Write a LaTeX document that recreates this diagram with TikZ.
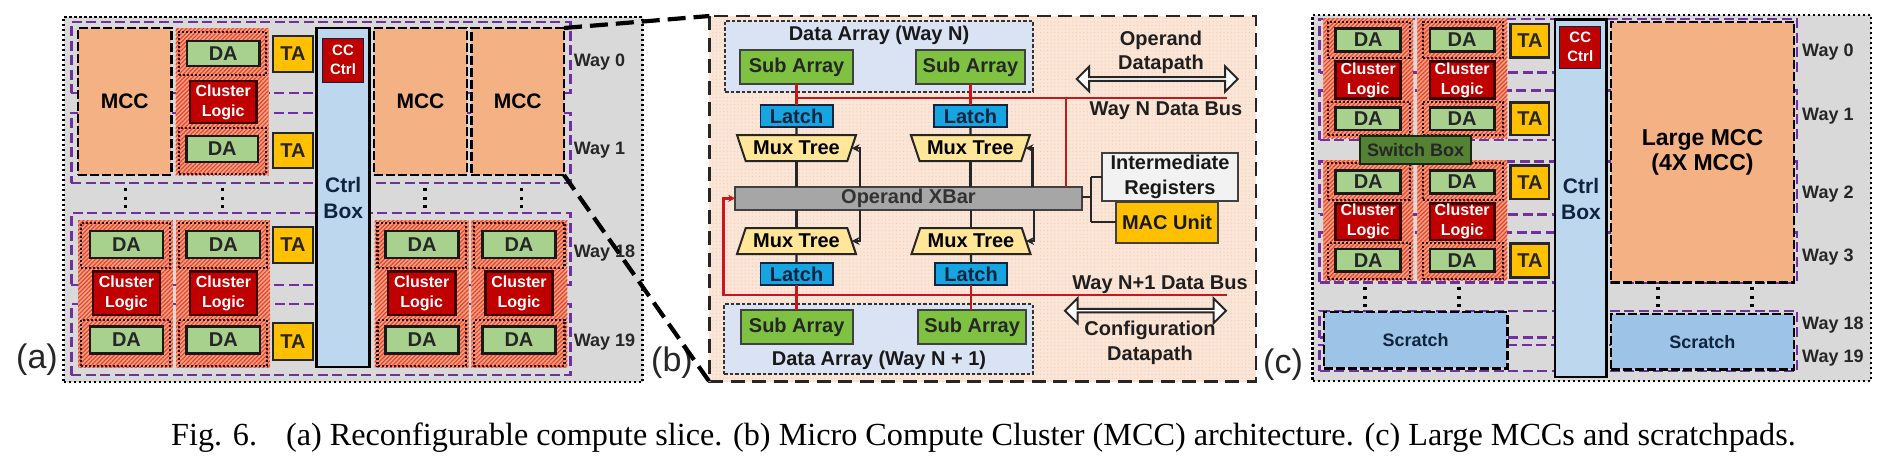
\documentclass[tikz,border=0pt]{standalone}
\usepackage{fontspec}
\setmainfont{Liberation Sans}
\newfontfamily\capfont{Liberation Serif}
\usetikzlibrary{arrows.meta,patterns.meta,shapes.geometric,shapes.arrows}
\newcommand\fsz[2]{\fontsize{#1}{#2}\selectfont\bfseries}
\newcommand\mybx[7]{\pgfmathsetmacro\mybw{#5-#3}\pgfmathsetmacro\mybh{#6-#4}%
  \node[#2,anchor=north west,minimum width=\mybw pt,minimum height=\mybh pt,inner sep=0pt,outer sep=0pt,align=center] (#1) at (#3,#4) {#7};}
\definecolor{pgray}{HTML}{D9D9D9}
\definecolor{ppurple}{HTML}{7030A0}
\definecolor{mccfill}{HTML}{F4B183}
\definecolor{hatchbg}{HTML}{F7A184}
\definecolor{hatchfg}{HTML}{E8442A}
\definecolor{dafill}{HTML}{A9D18E}
\definecolor{logicfill}{HTML}{C00000}
\definecolor{tafill}{HTML}{FFC000}
\definecolor{ctrlfill}{HTML}{BDD7EE}
\definecolor{scratchfill}{HTML}{9DC3E6}
\definecolor{navy}{HTML}{0F243E}
\definecolor{peach}{HTML}{FBE5D6}
\definecolor{peachdot}{HTML}{F1C8AE}
\definecolor{arrayfill}{HTML}{DAE3F3}
\definecolor{subfill}{HTML}{7FC241}
\definecolor{latchfill}{HTML}{16A5E0}
\definecolor{muxfill}{HTML}{FFE699}
\definecolor{busred}{HTML}{C8161D}
\definecolor{switchfill}{HTML}{548235}
\tikzset{
  x=1pt,y=-1pt,
  panelbg/.style={fill=pgray,draw=black,line width=2.6pt,dash pattern=on 2.6pt off 2.4pt},
  wayrect/.style={draw=ppurple,line width=2.6pt,dash pattern=on 10pt off 4.5pt},
  mccbox/.style={fill=mccfill,draw=black,line width=2.4pt,dash pattern=on 9pt off 3pt,text=black,font=\fsz{21}{26}},
  hatched/.style={preaction={fill=hatchbg},pattern={Lines[angle=45,distance=3pt,line width=1.2pt]},pattern color=hatchfg},
  subdots/.style={draw=black!90,line width=2.2pt,dash pattern=on 2pt off 2pt},
  dabox/.style={fill=dafill,draw=black!90,line width=2.6pt,text=black!85,font=\fsz{20}{24}},
  logicbox/.style={fill=logicfill,draw=black!70!logicfill,line width=2.6pt,text=white,font=\fsz{16}{20}},
  tabox/.style={fill=tafill,draw=black!85,line width=2.6pt,text=black!85,font=\fsz{20}{24}},
  ctrlbox/.style={fill=ctrlfill,draw=black,line width=2.8pt,text=navy,font=\fsz{21}{26}},
  ccbox/.style={fill=logicfill,draw=navy,line width=1pt,text=white,font=\fsz{15}{19}},
  waytext/.style={anchor=west,inner sep=0pt,text=black!85,font=\fsz{18}{20}},
  tagtext/.style={inner sep=0pt,text=black!85,font=\fontsize{34}{36}\selectfont},
  vdots/.style={draw=black,line width=3.2pt,dash pattern=on 3.2pt off 5.3pt},
  panelb/.style={preaction={fill=peach},pattern={Dots[distance=3.6pt,radius=.55pt]},pattern color=peachdot},
  panelbline/.style={draw=black!85,line width=2.6pt,dash pattern=on 14pt off 7.5pt},
  arraybox/.style={fill=arrayfill,draw=black!80,line width=1.8pt,dash pattern=on 3.5pt off 2pt},
  arraytext/.style={inner sep=0pt,text=black!90,font=\fsz{20}{24}},
  subbox/.style={fill=subfill,draw=black!75,line width=2pt,text=black!85,font=\fsz{20}{24}},
  latchbox/.style={fill=latchfill,draw=navy,line width=1.8pt,text=navy,font=\fsz{20}{24}},
  muxbox/.style={trapezium,trapezium stretches=true,trapezium left angle=62,trapezium right angle=62,minimum width=119pt,minimum height=26pt,inner sep=0pt,outer sep=0pt,fill=muxfill,draw=black!85,line width=2pt,text=black,font=\fsz{20}{24}},
  xbarbox/.style={fill=black!35,draw=black!75,line width=1.8pt,text=black!80,font=\fsz{20}{24}},
  regbox/.style={fill=black!5,draw=black!75,line width=2pt,text=black!90,font=\fsz{20}{25}},
  macbox/.style={fill=tafill,draw=black!75,line width=2pt,text=black!90,font=\fsz{20}{24}},
  wire/.style={draw=black!85,line width=2.2pt},
  arrowwire/.style={wire,-{Stealth[length=8pt,width=8pt]}},
  redbus/.style={draw=busred,line width=2.4pt},
  redarrow/.style={redbus,-{Stealth[length=7pt,width=7pt]}},
  bigarrow/.style={double arrow,double arrow head extend=6pt,minimum width=25pt,inner sep=0pt,outer sep=0pt,draw=black!85,fill=white,line width=2pt},
  freetext/.style={inner sep=0pt,text=black!88,font=\fsz{20}{24},align=center},
  scratchbox/.style={fill=scratchfill,draw=black,line width=2.4pt,dash pattern=on 9pt off 3pt,text=navy,font=\fsz{18}{22}},
  switchbox/.style={fill=switchfill,draw=black!70!switchfill,line width=2.2pt,text=black!85,font=\fsz{18}{22}},
  zoomline/.style={draw=black,line width=4.2pt,dash pattern=on 18pt off 8pt},
  captiontext/.style={anchor=west,inner sep=0pt,text=black,font=\capfont\fontsize{32.2}{34}\selectfont},
}
\begin{document}
\begin{tikzpicture}
\useasboundingbox[fill=white] (0,0) rectangle (1891,461);

% ---------- panel (a)
\mybx{pa}{panelbg}{63.6}{17}{642.7}{382}{}
\mybx{wa0}{wayrect}{71.4}{22}{570.3}{93}{}
\mybx{wa1}{wayrect}{71.4}{113}{570.3}{183}{}
\mybx{wa18}{wayrect}{71.4}{213}{570.3}{285}{}
\mybx{wa19}{wayrect}{71.4}{304}{570.3}{375}{}
\mybx{mccA}{mccbox}{78}{28}{171.4}{175}{MCC}
\mybx{hU}{hatched}{175.7}{28}{268.6}{175}{}
\mybx{sU1}{subdots}{178.6}{32}{266}{75}{}
\mybx{sU2}{subdots}{178.6}{128}{266}{174}{}
\mybx{daU1}{dabox}{186.8}{41}{259.6}{66}{DA}
\mybx{clU}{logicbox}{190}{81}{256.4}{123}{Cluster\\Logic}
\mybx{daU2}{dabox}{186.4}{136}{258}{162}{DA}
\mybx{taU1}{tabox}{273}{36}{313}{72}{TA}
\mybx{taU2}{tabox}{273}{133}{313}{168}{TA}
\mybx{mccB}{mccbox}{374}{28}{467}{175}{MCC}
\mybx{mccC}{mccbox}{471.4}{28}{564}{175}{MCC}
\foreach \n/\hA/\hB/\dA/\dB/\cA/\cB in {1/78/172.8/90/163/93/160,2/176/270/186.6/260/190/257,3/374.5/468.6/385.5/458.7/388/455.5,4/471.3/567.4/482.4/555.5/485.6/552.4}{
  \mybx{h\n}{hatched}{\hA}{220}{\hB}{367.7}{}
  \pgfmathsetmacro\sA{\hA+3}\pgfmathsetmacro\sB{\hB-3}
  \mybx{sa\n}{subdots}{\sA}{223}{\sB}{268}{}
  \mybx{sb\n}{subdots}{\sA}{320}{\sB}{366}{}
  \mybx{dat\n}{dabox}{\dA}{231}{\dB}{258}{DA}
  \mybx{cl\n}{logicbox}{\cA}{271.7}{\cB}{315}{Cluster\\Logic}
  \mybx{dab\n}{dabox}{\dA}{326.7}{\dB}{353.3}{DA}
}
\mybx{taL1}{tabox}{273}{227}{313}{263}{TA}
\mybx{taL2}{tabox}{273}{323}{313}{360}{TA}
\mybx{ctrlA}{ctrlbox}{316.8}{28}{369.6}{367}{Ctrl\\Box}
\mybx{ccA}{ccbox}{322.5}{38}{363.6}{82}{CC\\Ctrl}
\foreach \x in {125.7,222.5,425,521.4}{\path[vdots] (\x,188) -- (\x,208);}
\node[waytext] (wla0) at (573.7,62) {Way 0};
\node[waytext] (wla1) at (573.7,150) {Way 1};
\node[waytext] (wla18) at (573.7,253) {Way 18};
\node[waytext] (wla19) at (573.7,342) {Way 19};
\node[tagtext] (taga) at (37,360) {(a)};

% ---------- panel (b)
\mybx{pb}{panelb}{709.4}{16}{1256}{381.7}{}
\draw[panelbline] (pb.north west) rectangle (pb.south east);
\mybx{arrN}{arraybox}{725}{21}{1033}{91.7}{}
\node[arraytext] (arrNt) at (879,35) {Data Array (Way N)};
\mybx{sub1}{subbox}{740.4}{50}{852.7}{84}{Sub Array}
\mybx{sub2}{subbox}{916.4}{50}{1024.5}{84}{Sub Array}
\mybx{arrM}{arraybox}{724.3}{304.3}{1032.7}{374}{}
\node[arraytext] (arrMt) at (879,360.7) {Data Array (Way N + 1)};
\mybx{sub3}{subbox}{740.7}{310}{852.7}{344}{Sub Array}
\mybx{sub4}{subbox}{918.3}{310}{1026}{344}{Sub Array}
\mybx{lat1}{latchbox}{760.4}{105}{832.7}{126.7}{Latch}
\mybx{lat2}{latchbox}{934.3}{105}{1006.6}{126.7}{Latch}
\mybx{lat3}{latchbox}{760.4}{263.3}{832.7}{285}{Latch}
\mybx{lat4}{latchbox}{935}{263.3}{1007.3}{285}{Latch}
\node[muxbox,shape border rotate=180] (mux1) at (796.5,148.2) {Mux Tree};
\node[muxbox,shape border rotate=180] (mux2) at (970.4,148.2) {Mux Tree};
\node[muxbox] (mux3) at (796.5,241) {Mux Tree};
\node[muxbox] (mux4) at (971,241) {Mux Tree};
\mybx{xbar}{xbarbox}{735.2}{186.7}{1081.7}{210}{Operand XBar}
\mybx{regs}{regbox}{1102.3}{153.3}{1237.7}{201}{Intermediate\\Registers}
\mybx{mac}{macbox}{1115.7}{201.7}{1218.3}{242.7}{MAC Unit}
% buses
\coordinate (busNl) at (796.5,97.7);
\coordinate (busNr) at (1226.7,97.7);
\coordinate (busMr) at (1226.7,294.7);
\coordinate (busMl) at (723.5,294.7);
\coordinate (tapR) at (1065.8,186.7);
\draw[redbus] (busNl) -- (busNr);
\draw[redbus] (sub1.south) -- (lat1.north);
\draw[redbus] (sub2.south) -- (lat2.north);
\draw[redbus] (tapR) -- (tapR |- busNl);
\draw[redarrow] (busMr) -- (busMl) |- (xbar.west);
\draw[redbus] (lat3.south) -- (lat3.south |- sub3.north);
\draw[redbus] (lat4.south) -- (lat4.south |- sub4.north);
% wires
\draw[wire] (lat1.south) -- (mux1.north);
\draw[wire] (lat2.south) -- (mux2.north);
\draw[wire] (lat3.north) -- (mux3.south);
\draw[wire] (lat4.north) -- (mux4.south);
\draw[wire] (mux1.south) -- (mux1.south |- xbar.north);
\draw[wire] (mux2.south) -- (mux2.south |- xbar.north);
\draw[wire] (mux3.north) -- (mux3.north |- xbar.south);
\draw[wire] (mux4.north) -- (mux4.north |- xbar.south);
\coordinate (tap1) at (860.2,186.7);
\coordinate (tap2) at (1032.4,186.7);
\coordinate (tap3) at (860.2,210);
\coordinate (tap4) at (1034,210);
\draw[arrowwire] (tap1) |- (mux1.east);
\draw[arrowwire] (tap2) |- (mux2.east);
\draw[arrowwire] (tap3) |- (mux3.east);
\draw[arrowwire] (tap4) |- (mux4.east);
\coordinate (fork) at (1091,197);
\draw[wire] (xbar.east |- fork) -- (fork);
\draw[wire] (fork |- regs.west) -- (fork |- mac.west);
\draw[wire] (fork |- regs.west) -- (regs.west);
\draw[wire] (fork |- mac.west) -- (mac.west);
% texts and double arrows
\node[freetext] (opA) at (1161,40) {Operand};
\node[freetext] (opB) at (1161,64.3) {Datapath};
\node[bigarrow,minimum height=161pt] (dblA) at (1157.2,79) {};
\node[freetext] (wayNbus) at (1166,111) {Way N Data Bus};
\node[freetext] (wayMbus) at (1160,285) {Way N+1 Data Bus};
\node[bigarrow,minimum height=161pt] (dblB) at (1145.5,310.7) {};
\node[freetext] (cfA) at (1150,330.7) {Configuration};
\node[freetext] (cfB) at (1150,355) {Datapath};
\node[tagtext] (tagb) at (672,363) {(b)};

% ---------- panel (c)
\mybx{pc}{panelbg}{1312.6}{15}{1871}{381}{}
\mybx{wc0}{wayrect}{1319.6}{19}{1797}{72.7}{}
\mybx{wc1}{wayrect}{1319.6}{90.7}{1797}{140}{}
\mybx{wc2}{wayrect}{1319.6}{161.7}{1797}{214.3}{}
\mybx{wc3}{wayrect}{1319.6}{232.3}{1797}{282.3}{}
\mybx{wc18}{wayrect}{1319.6}{311}{1797}{337.7}{}
\mybx{wc19}{wayrect}{1319.6}{345}{1797}{371}{}
\foreach \c/\hA/\hB/\sA/\sB/\dA/\dB in {L/1323.3/1413.3/1328.3/1410/1335.7/1400.7,R/1417.3/1507.3/1422.7/1503.3/1430/1494.3}{
  \foreach \g/\yA/\yB/\sTa/\sTb/\dTa/\dTb/\lTa/\lTb/\sBa/\sBb/\dBa/\dBb in {a/18.3/138.3/21.7/58.3/28.3/51.7/61.7/98.3/101.7/135/107.3/130,b/160/280/163/200/170.7/193.3/203.3/240/243.3/279.3/249/271.7}{
    \mybx{ch\c\g}{hatched}{\hA}{\yA}{\hB}{\yB}{}
    \mybx{cs\c\g}{subdots}{\sA}{\sTa}{\sB}{\sTb}{}
    \mybx{ct\c\g}{subdots}{\sA}{\sBa}{\sB}{\sBb}{}
    \mybx{cda\c\g}{dabox}{\dA}{\dTa}{\dB}{\dTb}{DA}
    \mybx{ccl\c\g}{logicbox}{\dA}{\lTa}{\dB}{\lTb}{Cluster\\Logic}
    \mybx{cdb\c\g}{dabox}{\dA}{\dBa}{\dB}{\dBb}{DA}
  }
}
\mybx{sw}{switchbox}{1360}{136}{1471}{164}{Switch Box}
\mybx{tc1}{tabox}{1510.7}{24}{1549}{57.3}{TA}
\mybx{tc2}{tabox}{1510.7}{102.3}{1549}{135}{TA}
\mybx{tc3}{tabox}{1510.7}{165.7}{1549}{199}{TA}
\mybx{tc4}{tabox}{1510.7}{243.3}{1549}{277.3}{TA}
\mybx{scrL}{scratchbox}{1324}{311.7}{1507.3}{368.3}{Scratch}
\mybx{scrR}{scratchbox}{1610.7}{314}{1794}{369.3}{Scratch}
\mybx{lmcc}{mccbox,font=\fsz{23}{25}}{1611}{21.7}{1794}{282.3}{Large MCC\\(4X MCC)}
\mybx{ctrlC}{ctrlbox}{1555}{19.3}{1606.5}{377}{}
\node[text=navy,inner sep=0pt,align=center,font=\fsz{21}{26}] (ctrlCt) at (1581,199) {Ctrl\\Box};
\mybx{ccC}{ccbox}{1559.8}{26}{1600.8}{68.3}{CC\\Ctrl}
\foreach \x in {1365,1459,1658,1752}{\path[vdots] (\x,287) -- (\x,307);}
\node[waytext] (wlc0) at (1802,52) {Way 0};
\node[waytext] (wlc1) at (1802,116) {Way 1};
\node[waytext] (wlc2) at (1802,194) {Way 2};
\node[waytext] (wlc3) at (1802,257) {Way 3};
\node[waytext] (wlc18) at (1802,325) {Way 18};
\node[waytext] (wlc19) at (1802,358) {Way 19};
\node[tagtext] (tagc) at (1283,365) {(c)};

% ---------- zoom lines
\draw[zoomline] (mccC.north east) -- (pb.north west);
\draw[zoomline] (mccC.south east) -- (pb.south west);

% ---------- caption
\node[captiontext] (cap) at (171,438) {Fig. 6.\hspace{0.9em}(a) Reconfigurable compute slice. (b) Micro Compute Cluster (MCC) architecture. (c) Large MCCs and scratchpads.};
\end{tikzpicture}
\end{document}
